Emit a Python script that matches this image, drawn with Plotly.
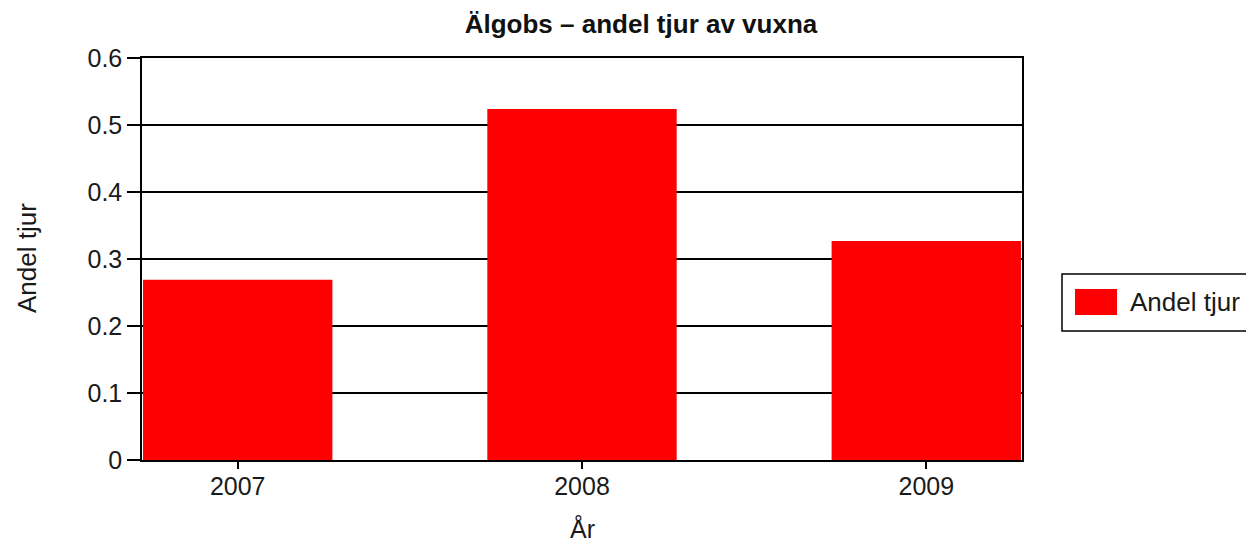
import plotly.graph_objects as go

years = ["2007", "2008", "2009"]
andel_tjur = [0.269, 0.524, 0.327]
series_name = "Andel tjur"
title_text = "Älgobs – andel tjur av vuxna"
x_title = "År"
y_title = "Andel tjur"
y_ticks = [0, 0.1, 0.2, 0.3, 0.4, 0.5, 0.6]
y_ticktext = ["0", "0.1", "0.2", "0.3", "0.4", "0.5", "0.6"]

FONT = "Liberation Sans, Arial, sans-serif"
# page body has an 8px margin, so the figure is offset by 8px in the window
OFF = 8
W, H = 1254 - OFF, 544 - OFF
L, T = 142 - OFF, 58 - OFF
R = W - (1022 - OFF)
B = H - (460 - OFF)
TXT = "#1a1a1a"

fig = go.Figure()
fig.add_trace(go.Bar(
    x=years, y=andel_tjur, name=series_name,
    marker=dict(color="#ff0000", line=dict(width=0)),
    width=0.55, showlegend=False,
))

fig.update_layout(
    width=W, height=H,
    margin=dict(l=L, r=R, t=T, b=B, pad=0),
    paper_bgcolor="white", plot_bgcolor="white",
    font=dict(family=FONT, size=25, color=TXT),
    title=dict(text="<b>" + title_text + "</b>", x=(641 - OFF) / W, xanchor="center",
               xref="container", y=1 - (24 - OFF) / H, yanchor="middle", yref="container",
               font=dict(family=FONT, size=26, color="#111111")),
    xaxis=dict(
        type="category", range=[-0.278, 2.278],
        showline=True, linecolor="black", linewidth=1.5, mirror=True,
        ticks="outside", ticklen=7, tickcolor="black", tickwidth=1.5,
        showgrid=False, zeroline=False, ticklabelstandoff=-4,
        tickfont=dict(size=25, color=TXT),
    ),
    yaxis=dict(
        range=[0, 0.6], tickvals=y_ticks, ticktext=y_ticktext,
        showline=True, linecolor="black", linewidth=1.5, mirror=True,
        ticks="outside", ticklen=13, tickcolor="black", tickwidth=1.5,
        showgrid=True, gridcolor="black", gridwidth=1.5,
        zeroline=False, tickfont=dict(size=25, color=TXT),
    ),
)

pw, ph = W - L - R, H - T - B
def px(xw):
    return (xw - OFF - L) / pw
def py(yw):
    return (H - B - (yw - OFF)) / ph

# axis titles
fig.add_annotation(text=x_title, xref="paper", yref="paper",
                   x=0.5, y=py(528), xanchor="center", yanchor="middle",
                   showarrow=False, font=dict(family=FONT, size=25, color=TXT))
fig.add_annotation(text=y_title, xref="paper", yref="paper", textangle=-90,
                   x=px(27), y=py(258), xanchor="center", yanchor="middle",
                   showarrow=False, font=dict(family=FONT, size=26, color=TXT))

# legend (drawn manually to match the large swatch)
fig.add_shape(type="rect", xref="paper", yref="paper",
              x0=px(1062), x1=px(1262), y0=py(331), y1=py(274),
              line=dict(color="black", width=1.5), fillcolor="white")
fig.add_shape(type="rect", xref="paper", yref="paper",
              x0=px(1075), x1=px(1117), y0=py(315), y1=py(289),
              line=dict(width=0), fillcolor="#ff0000")
fig.add_annotation(text=series_name, xref="paper", yref="paper",
                   x=px(1128), y=py(302), xanchor="left", yanchor="middle",
                   showarrow=False, font=dict(family=FONT, size=26, color=TXT))

fig.write_html("out.html")
